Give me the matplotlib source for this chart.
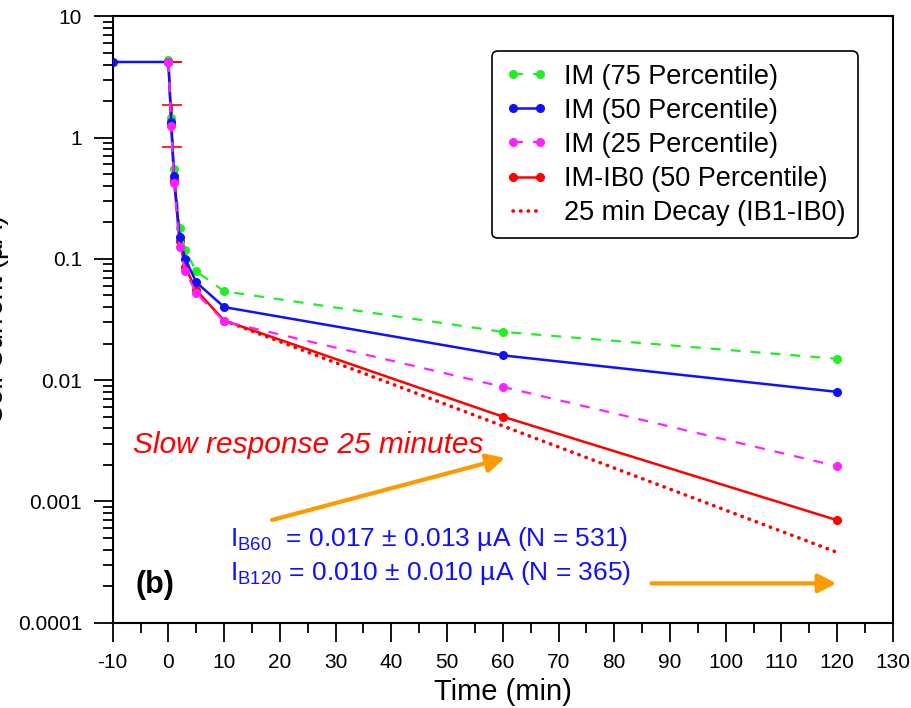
import numpy as np
import matplotlib.pyplot as plt
from matplotlib.lines import Line2D

plt.rcParams['font.family'] = ['Liberation Sans', 'DejaVu Sans']
plt.rcParams['mathtext.default'] = 'regular'
plt.rcParams['axes.unicode_minus'] = False

# data
t_blue = [-10, 0, 0.5, 1, 2, 3, 5, 10, 60, 120]
t_pct = [0, 0.5, 1, 2, 3, 5, 10, 60, 120]
im75 = [4.4, 1.45, 0.55, 0.18, 0.118, 0.079, 0.054, 0.025, 0.015]
im50 = [4.2, 4.2, 1.35, 0.485, 0.15, 0.10, 0.064, 0.040, 0.016, 0.008]
im25 = [4.2, 1.25, 0.425, 0.125, 0.080, 0.052, 0.0305, 0.0088, 0.00195]
im_ib0 = [4.2, 1.3, 0.45, 0.14, 0.086, 0.055, 0.031, 0.005, 0.0007]
decay_t = [10, 120]
decay_y = [0.031, 0.00038]
err_t = [0.6, 0.6]
err_y = [4.2, 1.3]
err_lo = [4.2, 0.84]
err_hi = [4.2, 1.84]

xticks = list(range(-10, 131, 10))
yticks = [1e-4, 1e-3, 1e-2, 1e-1, 1, 10]
ytick_labels = ['0.0001', '0.001', '0.01', '0.1', '1', '10']

GREEN = '#22ee22'
BLUE = '#1010ff'
MAGENTA = '#ff22ff'
RED = '#ff0000'
ORANGE = '#ff9900'
DOT = (0, (0.1, 2.0))

fig = plt.figure(figsize=(9.12, 7.08), dpi=100)
ax = fig.add_axes([0.1236, 0.1205, 0.979 - 0.1236, 0.977 - 0.1205])

yerr = [np.array(err_y) - np.array(err_lo), np.array(err_hi) - np.array(err_y)]
ax.errorbar(err_t, err_y, yerr=yerr, fmt='none', ecolor=RED, elinewidth=1.2,
            capsize=7, capthick=1.2, zorder=1)

ax.plot(decay_t, decay_y, color=RED, lw=2.6, linestyle=DOT, dash_capstyle='round', zorder=2)
ax.plot(t_pct, im_ib0, color=RED, lw=1.8, marker='o', ms=5.5, zorder=3)
ax.plot(t_pct, im75, color=GREEN, lw=1.6, dashes=(4.5, 4.5), marker='o', ms=5.5, zorder=4)
ax.plot(t_blue, im50, color=BLUE, lw=1.8, marker='o', ms=5.5, zorder=5)
ax.plot(t_pct, im25, color=MAGENTA, lw=1.6, dashes=(4.5, 4.5), marker='o', ms=5.5, zorder=6)

ax.set_yscale('log')
ax.set_xlim(-10, 130)
ax.set_ylim(1e-4, 10)
ax.set_xticks(xticks)
ax.set_xticks(np.arange(-5, 130, 10), minor=True)
ax.set_yticks(yticks)
ax.set_yticklabels(ytick_labels)
ax.tick_params(which='major', direction='out', length=14, width=1.3, labelsize=15)
ax.tick_params(axis='x', which='major', pad=8)
ax.tick_params(axis='y', which='major', pad=8)
ax.tick_params(which='minor', direction='out', length=7, width=1.3)
for s in ax.spines.values():
    s.set_linewidth(1.5)
    s.set_color('black')

ax.set_xlabel('Time (min)', fontsize=21, labelpad=4)
fig.text(0.0099, 0.549, 'Coil Current (µA)', rotation=90, ha='right', va='center', fontsize=20)

# annotations
ax.text(-6.3, 0.0025, 'Slow response 25 minutes', color=RED, fontsize=21.5,
        style='italic', ha='left', va='baseline')
ax.text(11.0, 0.000428, r'I$_{B60}$  = 0.017 ± 0.013 µA (N = 531)', color=BLUE,
        fontsize=19, ha='left', va='baseline')
ax.text(11.0, 0.000225, r'I$_{B120}$ = 0.010 ± 0.010 µA (N = 365)', color=BLUE,
        fontsize=19, ha='left', va='baseline')
ax.text(-6.0, 0.000176, '(b)', color='black', fontsize=22, fontweight='bold',
        ha='left', va='baseline')

arrow_style = dict(arrowstyle='-|>,head_length=0.55,head_width=0.28', color=ORANGE,
                   lw=3, mutation_scale=20, shrinkA=0, shrinkB=0)
ax.annotate('', xy=(60.4, 0.00228), xytext=(18.6, 0.000703), arrowprops=arrow_style)
ax.annotate('', xy=(119.9, 0.000211), xytext=(86.7, 0.000211), arrowprops=arrow_style)

handles = [
    Line2D([], [], color=GREEN, lw=1.6, dashes=(4.5, 4.5), marker='o', ms=5.5),
    Line2D([], [], color=BLUE, lw=1.8, marker='o', ms=5.5),
    Line2D([], [], color=MAGENTA, lw=1.6, dashes=(4.5, 4.5), marker='o', ms=5.5),
    Line2D([], [], color=RED, lw=1.8, marker='o', ms=5.5),
    Line2D([], [], color=RED, lw=2.6, linestyle=DOT, dash_capstyle='round'),
]
labels = ['IM (75 Percentile)', 'IM (50 Percentile)', 'IM (25 Percentile)',
          'IM-IB0 (50 Percentile)', '25 min Decay (IB1-IB0)']
leg = ax.legend(handles, labels, loc='upper right', bbox_to_anchor=(0.955, 0.942),
                borderaxespad=0, fontsize=19.5, numpoints=2, handlelength=1.6,
                handletextpad=0.6, labelspacing=0.3, fancybox=True, framealpha=1,
                borderpad=0.45)
leg.get_frame().set_edgecolor('black')
leg.get_frame().set_linewidth(1.2)

fig.savefig('out.png', dpi=100)
